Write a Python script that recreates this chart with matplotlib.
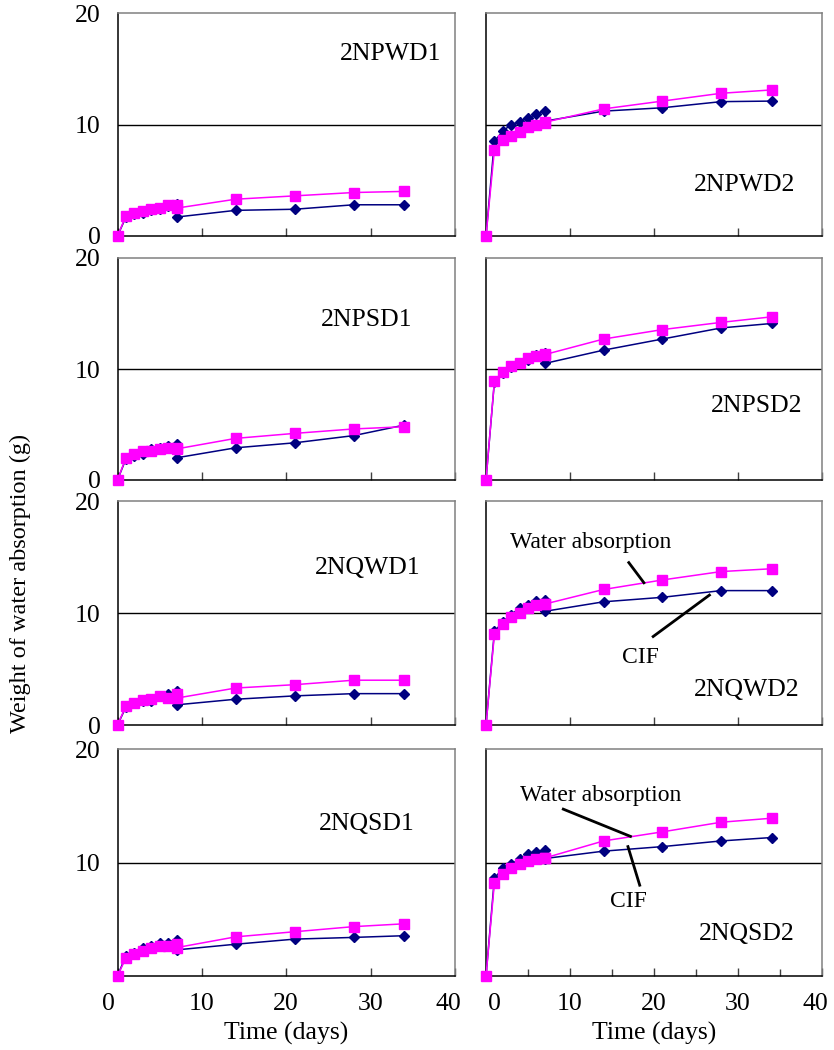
import matplotlib.pyplot as plt
from matplotlib.ticker import MultipleLocator
from matplotlib.transforms import ScaledTranslation

plt.rcParams['font.family'] = ['Liberation Serif', 'DejaVu Serif']

# sampling days (day 7 measured twice)
days = [0, 1, 2, 3, 4, 5, 6, 7, 7, 14, 21, 28, 34]

names = ['2NPWD1', '2NPWD2', '2NPSD1', '2NPSD2',
         '2NQWD1', '2NQWD2', '2NQSD1', '2NQSD2']

water = {
    '2NPWD1': [0, 1.8, 2.1, 2.2, 2.4, 2.5, 2.8, 2.8, 2.5, 3.3, 3.6, 3.9, 4.0],
    '2NPWD2': [0, 7.7, 8.6, 9.0, 9.3, 9.8, 9.95, 10.1, 10.2, 11.4, 12.1, 12.8, 13.1],
    '2NPSD1': [0, 2.0, 2.3, 2.6, 2.6, 2.75, 2.9, 2.9, 2.8, 3.75, 4.2, 4.6, 4.8],
    '2NPSD2': [0, 8.9, 9.7, 10.3, 10.5, 11.0, 11.2, 11.35, 11.3, 12.7, 13.55, 14.2, 14.7],
    '2NQWD1': [0, 1.7, 2.0, 2.2, 2.3, 2.6, 2.45, 2.8, 2.4, 3.3, 3.6, 4.0, 4.0],
    '2NQWD2': [0, 8.1, 9.0, 9.6, 10.0, 10.45, 10.75, 10.8, 10.8, 12.1, 12.95, 13.7, 13.95],
    '2NQSD1': [0, 1.6, 1.9, 2.2, 2.5, 2.65, 2.65, 2.8, 2.5, 3.45, 3.9, 4.35, 4.6],
    '2NQSD2': [0, 8.2, 9.0, 9.5, 9.85, 10.15, 10.3, 10.4, 10.4, 11.9, 12.7, 13.55, 13.9],
}

cif = {
    '2NPWD1': [0, 1.7, 2.0, 2.1, 2.3, 2.4, 2.7, 2.9, 1.7, 2.3, 2.4, 2.8, 2.8],
    '2NPWD2': [0, 8.5, 9.4, 10.0, 10.25, 10.6, 10.9, 11.2, 10.3, 11.2, 11.5, 12.05, 12.1],
    '2NPSD1': [0, 1.9, 2.2, 2.3, 2.75, 2.9, 3.05, 3.2, 2.0, 2.9, 3.35, 4.0, 4.95],
    '2NPSD2': [0, 8.85, 9.65, 10.2, 10.5, 10.8, 11.3, 11.4, 10.5, 11.7, 12.7, 13.7, 14.1],
    '2NQWD1': [0, 1.6, 2.0, 2.1, 2.1, 2.55, 2.8, 3.0, 1.8, 2.3, 2.6, 2.8, 2.8],
    '2NQWD2': [0, 8.35, 9.2, 9.85, 10.45, 10.75, 11.1, 11.2, 10.15, 11.0, 11.4, 12.0, 12.0],
    '2NQSD1': [0, 1.8, 2.0, 2.5, 2.65, 2.95, 2.95, 3.2, 2.3, 2.8, 3.25, 3.4, 3.55],
    '2NQSD2': [0, 8.6, 9.5, 9.85, 10.3, 10.75, 10.95, 11.1, 10.35, 11.0, 11.4, 11.9, 12.2],
}

# panel label positions (data coords)
label_pos = {
    '2NPWD1': (32.4, 16.3), '2NPWD2': (30.8, 4.6),
    '2NPSD1': (29.5, 14.4), '2NPSD2': (32.2, 6.7),
    '2NQWD1': (29.6, 14.0), '2NQWD2': (31.0, 3.1),
    '2NQSD1': (29.6, 13.4), '2NQSD2': (31.0, 3.7),
}

W, H = 834, 1050
fig = plt.figure(figsize=(W / 100, H / 100), dpi=100)

cols = [(117.5, 455), (486, 822)]
rows = [(13, 236), (258, 480), (501, 725), (749, 976)]

fs = 18.5
axes = {}
for i, name in enumerate(names):
    r, c = divmod(i, 2)
    x0, x1 = cols[c]
    t, b = rows[r]
    ax = fig.add_axes([x0 / W, 1 - b / H, (x1 - x0) / W, (b - t) / H])
    axes[name] = ax

    ax.plot(days, cif[name], color='#000080', marker='D', markersize=5.5,
            lw=1.1, clip_on=False, zorder=3)
    ax.plot(days, water[name], color='#FF00FF', marker='s', markersize=6.5,
            lw=1.1, clip_on=False, zorder=4)
    ax.axhline(10, color='black', lw=1.0, zorder=1)

    ax.set_xlim(0, 40)
    ax.set_ylim(0, 20)
    ax.xaxis.set_major_locator(MultipleLocator(10))
    if name == '2NQSD2':
        ax.xaxis.set_minor_locator(MultipleLocator(5))
        ax.tick_params(axis='x', which='minor', direction='in', length=5,
                       width=1, color='#404040')
    ax.tick_params(axis='x', which='major', direction='in', length=6,
                   width=1, color='#404040', labelsize=fs, pad=12)
    ax.tick_params(axis='y', length=0, labelsize=fs, pad=12)

    if c == 0:
        ax.set_yticks([0, 10, 20] if r < 3 else [10, 20])
    else:
        ax.set_yticks([])
    if r < 3:
        ax.set_xticklabels([])
    else:
        ax.set_xlabel('Time (days)', fontsize=fs, labelpad=5)

    for s in ['left', 'bottom']:
        ax.spines[s].set_color('black')
        ax.spines[s].set_linewidth(1.1)
    for s in ['top', 'right']:
        ax.spines[s].set_color('#808080')
        ax.spines[s].set_linewidth(1.1)

    lx, ly = label_pos[name]
    ax.text(lx, ly, name, fontsize=fs, ha='center', va='center')

# leader annotations
ax = axes['2NQWD2']
ax.text(12.5, 16.3, 'Water absorption', fontsize=17, ha='center', va='center')
ax.plot([17.0, 18.8], [14.5, 12.7], color='black', lw=2, zorder=5)
ax.text(18.4, 6.0, 'CIF', fontsize=17, ha='center', va='center')
ax.plot([19.9, 26.6], [7.9, 11.6], color='black', lw=2, zorder=5)

ax = axes['2NQSD2']
ax.text(13.7, 15.9, 'Water absorption', fontsize=17, ha='center', va='center')
ax.plot([9.2, 17.2], [14.7, 12.3], color='black', lw=2, zorder=5)
ax.text(16.9, 6.6, 'CIF', fontsize=17, ha='center', va='center')
ax.plot([18.3, 16.9], [8.0, 11.4], color='black', lw=2, zorder=5)

fig.text(20 / W, 1 - 583 / H, 'Weight of water absorption (g)', fontsize=17.5,
         rotation=90, ha='center', va='center')

# nudge the end tick labels of the bottom row the way the original does
fig.canvas.draw()
shifts = {'2NQSD1': {'0': -9, '40': -7}, '2NQSD2': {'0': 8, '40': -7}}
for name, sh in shifts.items():
    for lab in axes[name].get_xticklabels():
        dx = sh.get(lab.get_text())
        if dx:
            lab.set_transform(lab.get_transform() +
                              ScaledTranslation(dx / 100, 0, fig.dpi_scale_trans))

fig.savefig('out.png', dpi=100)
